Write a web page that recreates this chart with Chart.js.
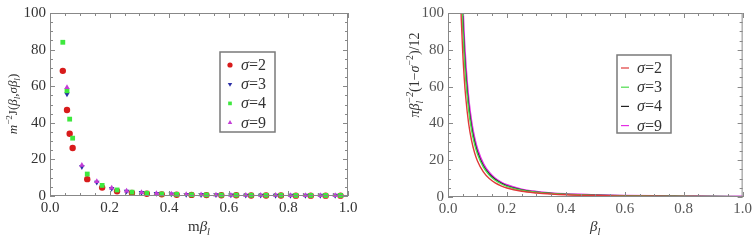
<!DOCTYPE html>
<html>
<head>
<meta charset="utf-8">
<script src="https://cdn.jsdelivr.net/npm/chart.js@4.4.1/dist/chart.umd.min.js"></script>
<style>
  body { margin: 0; background: #fff; }
  .panel { position: absolute; top: 0; height: 240px; }
</style>
</head>
<body>
<div class="panel" style="left:0;width:378px"><canvas id="left" width="378" height="240"></canvas></div>
<div class="panel" style="left:378px;width:377px"><canvas id="right" width="377" height="240"></canvas></div>
<script>
// Datos
const xTickValues = [0, 0.2, 0.4, 0.6, 0.8, 1.0];
const yTickValues = [0, 20, 40, 60, 80, 100];

// panel izquierdo (puntos)
const xA = [0.043, 0.057, 0.066, 0.076, 0.125, 0.175, 0.225, 0.275, 0.325, 0.375, 0.425,
  0.475, 0.525, 0.575, 0.625, 0.675, 0.725, 0.775, 0.825, 0.875, 0.925, 0.975];
const sigma2 = [68.4, 47, 34, 26.2, 9.2, 4.6, 2.6, 1.7, 1.2, 0.9, 0.7, 0.6, 0.5, 0.4, 0.4, 0.3, 0.3, 0.3, 0.2, 0.2, 0.2, 0.2];
const sigma4 = [84, 57.5, 42, 31.6, 12, 5.8, 3.3, 2.1, 1.5, 1.1, 0.9, 0.7, 0.6, 0.5, 0.5, 0.4, 0.4, 0.4, 0.3, 0.3, 0.3, 0.3];
const xB = [0.057, 0.107, 0.157, 0.207, 0.257, 0.307, 0.357, 0.407, 0.457, 0.507,
  0.557, 0.607, 0.657, 0.707, 0.757, 0.807, 0.857, 0.907, 0.957];
const sigma3 = [55.7, 16.0, 7.5, 4.1, 2.6, 1.8, 1.3, 1.0, 0.8, 0.7, 0.6, 0.5, 0.4, 0.4, 0.3, 0.3, 0.3, 0.3, 0.3];
const sigma9 = [59.3, 16.8, 8.0, 4.4, 2.8, 1.9, 1.4, 1.1, 0.9, 0.7, 0.6, 0.5, 0.5, 0.4, 0.4, 0.3, 0.3, 0.3, 0.3];

// panel derecho (curvas)
const betaL = [0.04, 0.045, 0.05, 0.055, 0.06, 0.07, 0.08, 0.09, 0.1, 0.12, 0.14, 0.16, 0.18, 0.2,
  0.25, 0.3, 0.35, 0.4, 0.5, 0.6, 0.7, 0.8, 0.9, 1.0];
const curve2 = [122.5, 96.8, 78.5, 64.9, 54.5, 40.0, 30.7, 24.2, 19.6, 13.6, 10.0, 7.7, 6.1, 4.9, 3.1, 2.2, 1.6, 1.2, 0.8, 0.5, 0.4, 0.3, 0.2, 0.2];
const curve3 = [145.4, 114.9, 93.1, 76.9, 64.6, 47.5, 36.4, 28.7, 23.3, 16.2, 11.9, 9.1, 7.2, 5.8, 3.7, 2.6, 1.9, 1.5, 0.9, 0.6, 0.5, 0.4, 0.3, 0.2];
const curve4 = [153.4, 121.2, 98.2, 81.1, 68.2, 50.1, 38.3, 30.3, 24.5, 17.0, 12.5, 9.6, 7.6, 6.1, 3.9, 2.7, 2.0, 1.5, 1.0, 0.7, 0.5, 0.4, 0.3, 0.2];
const curve9 = [161.6, 127.7, 103.4, 85.5, 71.8, 52.8, 40.4, 31.9, 25.9, 18.0, 13.2, 10.1, 8.0, 6.5, 4.1, 2.9, 2.1, 1.6, 1.0, 0.7, 0.5, 0.4, 0.3, 0.3];

const SERIF = '"Liberation Serif", "Times New Roman", serif';

const pares = (xs, ys) => xs.map((x, i) => ({ x: x, y: ys[i] }));

// texto con sub/superindices
function fuente(p, size) {
  const s = (p.sup || p.sub) ? size * 0.7 : size;
  return (p.i ? 'italic ' : '') + s + 'px ' + SERIF;
}
function anchoTexto(ctx, partes, size) {
  let w = 0;
  partes.forEach((p) => {
    if (p.stack) {
      ctx.font = fuente({ i: true, sub: true }, size);
      w += Math.max(ctx.measureText(p.b).width, ctx.measureText(p.a).width);
    } else {
      ctx.font = fuente(p, size);
      w += ctx.measureText(p.t).width;
    }
  });
  return w;
}
function dibujarTexto(ctx, partes, x, y, size, centrado) {
  let cx = centrado ? x - anchoTexto(ctx, partes, size) / 2 : x;
  ctx.textBaseline = 'alphabetic';
  ctx.textAlign = 'left';
  partes.forEach((p) => {
    if (p.stack) {
      ctx.font = fuente({ i: true, sub: true }, size);
      ctx.fillText(p.b, cx, y + size * 0.25);
      ctx.fillText(p.a, cx, y - size * 0.4);
      cx += Math.max(ctx.measureText(p.b).width, ctx.measureText(p.a).width);
    } else {
      ctx.font = fuente(p, size);
      const dy = p.sup ? -size * 0.4 : (p.sub ? size * 0.25 : 0);
      ctx.fillText(p.t, cx, y + dy);
      cx += ctx.measureText(p.t).width;
    }
  });
}

// marco con marcas hacia dentro, titulos y leyenda
const decorado = {
  id: 'decorado',
  afterDraw(chart, args, opts) {
    const ctx = chart.ctx;
    const a = chart.chartArea;
    const xs = chart.scales.x, ys = chart.scales.y;
    ctx.save();
    ctx.strokeStyle = '#888';
    ctx.lineWidth = 1;
    ctx.strokeRect(a.left + 0.5, a.top + 0.5, a.right - a.left - 1, a.bottom - a.top - 1);
    ctx.beginPath();
    for (let v = 0; v <= 1.0001; v += 0.05) {
      const px = Math.round(xs.getPixelForValue(v)) + 0.5;
      const L = Math.abs(v * 5 - Math.round(v * 5)) < 1e-6 ? 5 : 3;
      ctx.moveTo(px, a.bottom); ctx.lineTo(px, a.bottom - L);
      ctx.moveTo(px, a.top); ctx.lineTo(px, a.top + L);
    }
    for (let v = 0; v <= 100; v += 5) {
      const py = Math.round(ys.getPixelForValue(v)) + 0.5;
      const L = v % 20 === 0 ? 5 : 3;
      ctx.moveTo(a.left, py); ctx.lineTo(a.left + L, py);
      ctx.moveTo(a.right, py); ctx.lineTo(a.right - L, py);
    }
    ctx.stroke();

    ctx.fillStyle = '#333';
    dibujarTexto(ctx, opts.xTitle, (a.left + a.right) / 2, 231, 15, true);
    ctx.save();
    ctx.translate(opts.yTitlePos[0], opts.yTitlePos[1]);
    ctx.rotate(-Math.PI / 2);
    dibujarTexto(ctx, opts.yTitle, 0, 4, opts.yTitleSize, true);
    ctx.restore();

    // leyenda
    const b = opts.box;
    ctx.fillStyle = '#fff';
    ctx.fillRect(b[0], b[1], b[2], b[3]);
    ctx.strokeStyle = '#7a7a7a';
    ctx.lineWidth = 1.5;
    ctx.strokeRect(b[0], b[1], b[2], b[3]);
    chart.data.datasets.forEach((ds, i) => {
      const yy = b[1] + 13 + i * 19.2;
      if (opts.lineas) {
        ctx.strokeStyle = ds.borderColor;
        ctx.lineWidth = 1.2;
        ctx.beginPath();
        ctx.moveTo(b[0] + 4, yy); ctx.lineTo(b[0] + 12, yy);
        ctx.stroke();
      } else {
        ctx.fillStyle = ds.backgroundColor;
        ctx.strokeStyle = ds.backgroundColor;
        Chart.helpers.drawPoint(ctx, { pointStyle: ds.pointStyle, rotation: ds.rotation || 0, radius: 2.6, borderWidth: 0 }, b[0] + 10, yy);
      }
      ctx.fillStyle = '#333';
      dibujarTexto(ctx, [{ t: 'σ', i: true }, { t: '=' + ds.label.split('=')[1] }], b[0] + opts.textX, yy + 5, 16, false);
    });
    ctx.restore();
  }
};

function escalas(yW, xH, colorTicks) {
  return {
    x: {
      type: 'linear', min: 0, max: 1,
      afterBuildTicks: (s) => { s.ticks = xTickValues.map((v) => ({ value: v })); },
      afterFit: (s) => { s.height = xH; },
      grid: { display: false, drawTicks: false },
      border: { display: false },
      ticks: { padding: 3, color: colorTicks, font: { family: SERIF, size: 15 }, maxRotation: 0,
        callback: (v) => v.toFixed(1) }
    },
    y: {
      type: 'linear', min: 0, max: 100,
      afterBuildTicks: (s) => { s.ticks = yTickValues.map((v) => ({ value: v })); },
      afterFit: (s) => { s.width = yW; },
      grid: { display: false, drawTicks: false },
      border: { display: false },
      ticks: { padding: 4, color: colorTicks, font: { family: SERIF, size: 15 } }
    }
  };
}

new Chart(document.getElementById('left'), {
  type: 'scatter',
  data: {
    datasets: [
      { label: 'σ=2', data: pares(xA, sigma2), backgroundColor: '#d81b1b', pointStyle: 'circle', pointRadius: 3.2, order: 3 },
      { label: 'σ=3', data: pares(xB, sigma3), backgroundColor: '#2b2fa6', pointStyle: 'triangle', rotation: 180, pointRotation: 180, pointRadius: 3.2, order: 2 },
      { label: 'σ=4', data: pares(xA, sigma4), backgroundColor: '#3ee83e', pointStyle: 'rect', pointRadius: 3.4, order: 1 },
      { label: 'σ=9', data: pares(xB, sigma9), backgroundColor: '#c43dd6', pointStyle: 'triangle', pointRadius: 3.2, order: 0 }
    ].map((d) => Object.assign(d, { borderWidth: 0, clip: false }))
  },
  options: {
    responsive: false,
    animation: false,
    layout: { padding: { left: 0, right: 30, top: 12, bottom: 0 } },
    scales: escalas(50, 44, '#333'),
    plugins: {
      legend: { display: false },
      tooltip: { enabled: false },
      decorado: {
        xTitle: [{ t: 'm' }, { t: 'β', i: true }, { t: 'l', i: true, sub: true }],
        yTitle: [{ t: 'm', i: true }, { t: '−2', sup: true }, { t: 'J(' }, { t: 'β', i: true }, { t: 'l', i: true, sub: true },
          { t: ',' }, { t: 'σβ', i: true }, { t: 'l', i: true, sub: true }, { t: ')' }],
        yTitleSize: 13,
        yTitlePos: [13, 104],
        box: [220, 52, 55, 80],
        textX: 21,
        lineas: false
      }
    }
  },
  plugins: [decorado]
});

new Chart(document.getElementById('right'), {
  type: 'line',
  data: {
    labels: betaL,
    datasets: [
      { label: 'σ=2', data: pares(betaL, curve2), borderColor: '#e03a3a', borderWidth: 1.4 },
      { label: 'σ=3', data: pares(betaL, curve3), borderColor: '#4ddc4d', borderWidth: 1.4 },
      { label: 'σ=4', data: pares(betaL, curve4), borderColor: '#222222', borderWidth: 1.2 },
      { label: 'σ=9', data: pares(betaL, curve9), borderColor: '#e52ee5', borderWidth: 2 }
    ].map((d) => Object.assign(d, { pointRadius: 0, fill: false, cubicInterpolationMode: 'monotone' }))
  },
  options: {
    responsive: false,
    animation: false,
    layout: { padding: { left: 0, right: 9, top: 13, bottom: 0 } },
    scales: escalas(70, 43, '#555'),
    plugins: {
      legend: { display: false },
      tooltip: { enabled: false },
      decorado: {
        xTitle: [{ t: 'β', i: true }, { t: 'l', i: true, sub: true }],
        yTitle: [{ t: 'πβ', i: true }, { stack: true, b: 'l', a: '−2' }, { t: '(1−' }, { t: 'σ', i: true }, { t: '−2', sup: true }, { t: ')/12' }],
        yTitleSize: 14,
        yTitlePos: [37, 75],
        box: [239, 55, 54, 78],
        textX: 20,
        lineas: true
      }
    }
  },
  plugins: [decorado]
});
</script>
</body>
</html>
